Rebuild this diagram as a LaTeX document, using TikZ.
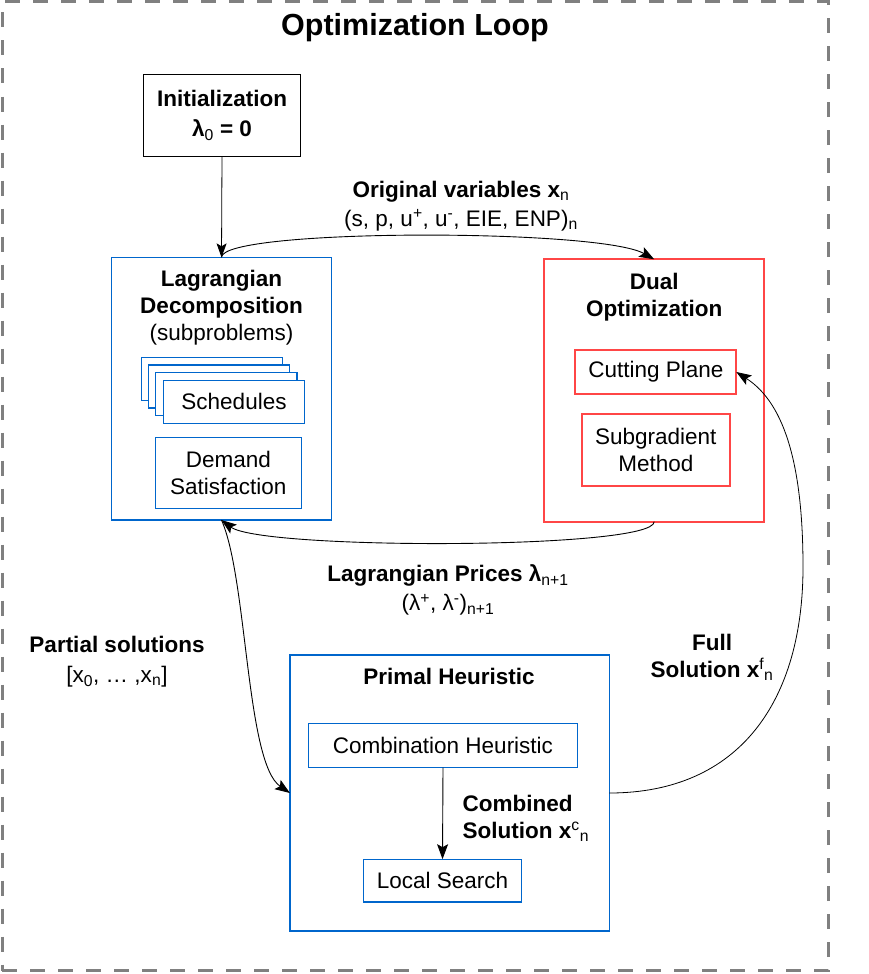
\documentclass[tikz,border=0pt]{standalone}
\usepackage{fontspec}
\setmainfont{Liberation Sans}
\usetikzlibrary{arrows.meta}
\definecolor{dblue}{RGB}{0,102,204}
\definecolor{dred}{RGB}{255,70,70}
\definecolor{dgray}{RGB}{128,128,128}
\newcommand\mysb[1]{\textsubscript{\mdseries #1}}
\newcommand\mysp[1]{\textsuperscript{\mdseries #1}}
\begin{document}
\begin{tikzpicture}[x=1pt,y=-1pt,
  every node/.style={font=\fontsize{22.5}{27}\selectfont, inner sep=0pt, outer sep=0pt},
  box/.style={draw, line width=1pt, fill=white, align=center},
  bluebox/.style={box, draw=dblue, line width=1.4pt},
  redbox/.style={box, draw=dred, line width=1.8pt},
  blackbox/.style={box, draw=black},
  conn/.style={line width=0.9pt, -{Stealth[length=15pt,width=11pt,inset=3pt]}},
  lbl/.style={align=center},
  bold/.style={font=\fontsize{22.5}{27}\selectfont\bfseries},
]
\useasboundingbox (0,0) rectangle (868,974);
\node[draw=dgray, line width=3pt, dash pattern=on 15pt off 13pt, minimum width=826.5pt, minimum height=968.5pt] (frame) at (415.25,486.25) {};
\node[font=\fontsize{30.5}{34}\selectfont\bfseries] (title) at (415,28) {Optimization Loop};

% Initialization
\node[blackbox, bold, minimum width=157.4pt, minimum height=82.4pt] (init) at (222,115.5) {Initialization\\[3pt]λ\mysb{0} = 0};

% Lagrangian decomposition
\node[bluebox, minimum width=219.6pt, minimum height=262.7pt] (lag) at (221.5,388.7) {};
\node[lbl, bold] (lagT) at (221.5,308) {Lagrangian\\Decomposition\\\mdseries(subproblems)};
\node[bluebox, minimum width=141.4pt, minimum height=43pt] (sch1) at (212,378.8) {};
\node[bluebox, minimum width=141.4pt, minimum height=43pt] (sch2) at (219,386.4) {};
\node[bluebox, minimum width=141.4pt, minimum height=43pt] (sch3) at (226.3,394) {};
\node[bluebox, minimum width=141.4pt, minimum height=43pt] (sch) at (234,401.8) {Schedules};
\node[bluebox, minimum width=146pt, minimum height=71pt] (dem) at (228.3,472.8) {Demand\\Satisfaction};

% Dual optimization
\node[redbox, minimum width=220.3pt, minimum height=262.4pt] (dual) at (654.2,390.5) {};
\node[lbl, bold] (dualT) at (654.2,297) {Dual\\Optimization};
\node[redbox, minimum width=161pt, minimum height=44pt] (cut) at (655.8,372) {Cutting Plane};
\node[redbox, minimum width=147.7pt, minimum height=71.7pt] (sub) at (655.8,449.8) {Subgradient\\Method};

% Primal heuristic
\node[bluebox, minimum width=319.3pt, minimum height=276pt] (primal) at (449.6,793) {};
\node[bold] (primalT) at (449,676) {Primal Heuristic};
\node[bluebox, minimum width=268.6pt, minimum height=44pt] (comb) at (443,745.5) {Combination Heuristic};
\node[bluebox, minimum width=157.7pt, minimum height=42.8pt] (local) at (442.5,880.6) {Local Search};

% Edge labels
\node[lbl] (origL) at (461,206) {\bfseries Original variables x\mysb{n}\\[2pt](s, p, u\mysp{+}, u\mysp{-}, EIE, ENP)\mysb{n}};
\node[lbl] (priceL) at (448,590) {\bfseries Lagrangian Prices λ\mysb{n+1}\\[2pt](λ\mysp{+}, λ\mysp{-})\mysb{n+1}};
\node[lbl] (partL) at (117,662) {\bfseries Partial solutions\\[3pt][x\mysb{0}, … ,x\mysb{n}]};
\node[lbl, bold] (fullL) at (712,657) {Full\\Solution x\mysp{f}\mysb{n}};
\node[bold, align=left, anchor=west] (combL) at (462.7,818) {Combined\\Solution x\mysp{c}\mysb{n}};

% Connectors
\coordinate (fsmid) at (803,567);
\draw[conn, line width=0.8pt, -{Stealth[length=14pt,width=10pt,inset=3pt]}] (init.south) -- (lag.north);
\draw[conn] (lag.north) .. controls +(0,-29) and +(-55,-31) .. (dual.north);
\draw[conn] (dual.south) .. controls +(0,28) and +(40,30) .. (lag.south);
\draw[conn] (lag.south) .. controls +(26,59) and +(-44,-30) .. (primal.west);
\draw[conn, line width=0.8pt] (primal.east) .. controls +(131,0) and +(0,133) .. (fsmid) .. controls +(0,-97) and +(50,32) .. (cut.east);
\draw[conn] (comb.south) -- (local.north);
\end{tikzpicture}
\end{document}
